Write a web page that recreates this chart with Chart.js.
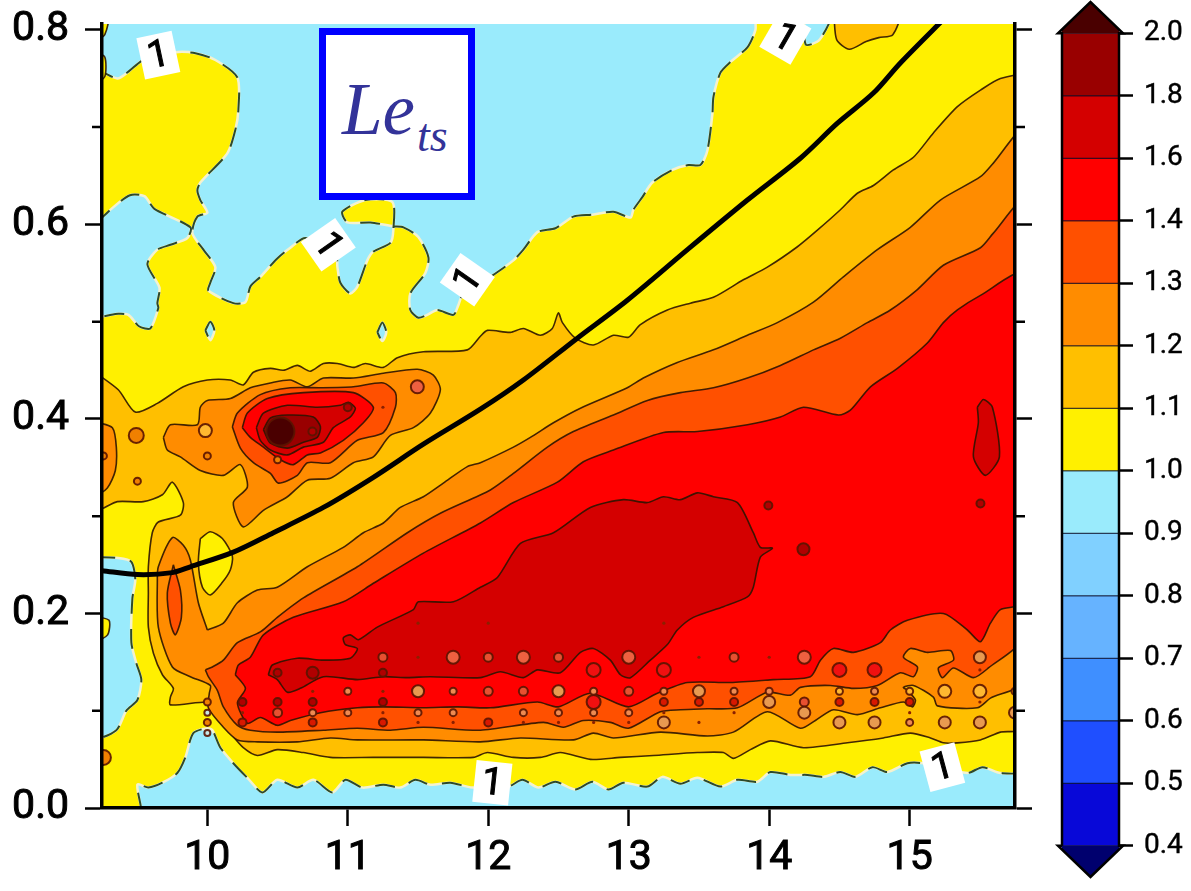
<!DOCTYPE html>
<html>
<head>
<meta charset="utf-8">
<title>Le_ts</title>
<script src="https://cdn.jsdelivr.net/npm/chart.js@4/dist/chart.umd.min.js"></script>
<style>
    html, body { margin: 0; padding: 0; background: #fff; overflow: hidden; }
    canvas { position: absolute; top: 0; display: block; }
    #mapChart { left: 0; }
    #barChart { left: 1040px; }
    #nameBox {
        position: absolute; left: 319px; top: 28px; width: 156px; height: 172px;
        box-sizing: border-box; border: 7.5px solid #0000ff; background: #fff;
    }
    #nameBox span { position: absolute; font-style: italic; font-family: "Liberation Serif", serif; color: #333399; white-space: nowrap; }
    #nameLe { left: 16px; top: 33px; font-size: 73px; line-height: 84px; }
    #nameTs { left: 91px; top: 76px; font-size: 46px; line-height: 50px; }
</style>
</head>
<body>
<canvas id="mapChart" width="1040" height="891"></canvas>
<canvas id="barChart" width="151" height="891"></canvas>
<div id="nameBox"><span id="nameLe">Le</span><span id="nameTs">ts</span></div>

<script>
// axis ticks
const xTickValues = [10, 11, 12, 13, 14, 15];
const yMajorValues = [0, 0.2, 0.4, 0.6, 0.8];
const yMinorValues = [0.1, 0.3, 0.5, 0.7];

// colour bar
const barLabels = ['0.4', '0.5', '0.6', '0.7', '0.8', '0.9', '1.0', '1.1', '1.2', '1.3', '1.4', '1.6', '1.8', '2.0'];

// contour regions, [x, y]. yellow = 1.0 level
const contour1p0 = [
    [9.2,.761],[9.359,.750],[9.438,.757],[9.544,.769],[9.772,.777],[9.915,.776],[10.057,.769],[10.214,.751],[10.221,.718],
    [10.199,.697],[10.142,.673],[9.950,.643],[9.929,.635],[9.950,.625],[10.0,.612],[9.929,.608],[9.893,.591],[9.972,.574],
    [10.057,.556],[10.021,.540],[10.007,.532],[10.185,.519],[10.271,.520],[10.306,.536],[10.377,.546],[10.498,.565],
    [10.591,.576],[10.698,.586],[10.911,.574],[10.926,.556],[10.947,.540],[11.018,.529],[11.068,.536],[11.139,.563],
    [11.182,.572],[11.303,.581],[11.324,.594],[11.317,.623],[11.125,.625],[10.961,.613],[10.997,.602],[11.161,.602],
    [11.324,.598],[11.396,.597],[11.502,.587],[11.574,.566],[11.552,.550],[11.445,.529],[11.445,.512],[11.502,.504],
    [11.566,.507],[11.638,.512],[11.752,.507],[11.787,.517],[11.816,.527],[12.015,.546],[12.179,.563],[12.250,.574],
    [12.350,.592],[12.478,.596],[12.606,.608],[12.741,.610],[12.891,.613],[13.012,.607],[13.033,.615],[13.097,.628],
    [13.168,.643],[13.311,.656],[13.425,.661],[13.510,.661],[13.560,.676],[13.596,.714],[13.603,.731],[13.653,.756],
    [13.724,.767],[13.845,.782],[13.902,.800],[13.916,.82],[15.8,.82],[15.8,.039],[15.646,.036],[15.518,.042],[15.411,.036],
    [15.098,.046],[14.984,.046],[14.842,.037],[14.735,.042],[14.614,.032],[14.507,.037],[14.386,.032],[14.272,.034],
    [14.151,.034],[14.009,.037],[13.916,.027],[13.774,.029],[13.653,.022],[13.489,.031],[13.368,.025],[13.240,.032],
    [13.133,.022],[12.962,.026],[12.855,.019],[12.741,.027],[12.620,.019],[12.478,.027],[12.357,.021],[12.243,.029],
    [12.143,.022],[11.887,.021],[11.730,.026],[11.588,.024],[11.481,.029],[11.374,.021],[11.253,.024],[11.104,.021],
    [10.983,.029],[10.890,.016],[10.755,.029],[10.641,.021],[10.498,.029],[10.392,.016],[10.285,.031],[10.185,.046],
    [10.093,.062],[10.036,.080],[10.0,.082],[9.900,.077],[9.843,.052],[9.786,.036],[9.680,.026],[9.580,.021],[9.502,.024],
    [9.523,-.01],[9.2,-.01],[9.2,.761]
];
// sky-blue pockets lying inside the yellow
const pocketLeftTop = [
    [9.2,.600],[9.325,.617],[9.449,.630],[9.552,.629],[9.623,.616],[9.879,.597],[9.858,.586],[9.737,.579],[9.644,.574],
    [9.573,.559],[9.659,.535],[9.644,.519],[9.651,.514],[9.594,.493],[9.516,.495],[9.438,.507],[9.366,.508],[9.2,.507],[9.2,.600]
];
const pocketLeftLow = [
    [9.2,.258],[9.366,.257],[9.459,.253],[9.487,.235],[9.466,.215],[9.459,.170],[9.494,.149],[9.530,.132],[9.502,.111],
    [9.423,.100],[9.352,.080],[9.2,.073],[9.2,.258]
];
const pocketDotA = [[9.986,.491],[10.021,.500],[10.05,.491],[10.021,.481],[9.986,.491]];
const pocketDotB = [[11.210,.489],[11.246,.499],[11.274,.489],[11.246,.480],[11.210,.489]];
const pocketTopRight = [[14.25,.82],[14.45,.82],[14.36,.79],[14.26,.785],[14.25,.82]];
// yellow slivers against the left axis
const sliverTopLeft = [[9.2,.82],[9.3,.82],[9.27,.795],[9.2,.79],[9.2,.82]];
const sliverMidLeft = [[9.2,.778],[9.27,.772],[9.27,.752],[9.2,.745],[9.2,.778]];
const sliverLowLeft = [[9.2,.197],[9.3,.193],[9.29,.178],[9.2,.172],[9.2,.197]];

const contour1p1 = [
    [9.2,.448],[9.366,.430],[9.487,.407],[9.644,.416],[9.829,.433],[10,.440],[10.164,.440],[10.256,.435],[10.328,.448],
    [10.449,.452],[10.541,.450],[10.641,.455],[10.733,.449],[10.826,.457],[10.926,.457],[11.040,.453],[11.125,.457],
    [11.253,.453],[11.353,.463],[11.538,.469],[11.851,.471],[11.944,.485],[11.994,.491],[12.157,.489],[12.250,.493],
    [12.371,.486],[12.456,.493],[12.499,.509],[12.528,.499],[12.620,.483],[12.748,.476],[12.891,.486],[12.998,.484],
    [13.083,.497],[13.275,.512],[13.439,.519],[13.603,.525],[13.816,.543],[13.987,.556],[14.201,.577],[14.343,.594],
    [14.507,.615],[14.628,.632],[14.742,.640],[14.884,.656],[15.027,.669],[15.169,.694],[15.340,.721],[15.504,.738],
    [15.646,.750],[15.8,.751],[15.8,.082],[15.646,.078],[15.504,.070],[15.340,.067],[15.240,.067],[15.148,.072],
    [15.005,.077],[14.813,.072],[14.557,.067],[14.244,.062],[14.009,.069],[13.866,.060],[13.745,.051],[13.674,.057],
    [13.489,.057],[13.176,.054],[12.941,.052],[12.727,.050],[12.513,.057],[12.371,.052],[12.179,.052],[11.994,.057],
    [11.894,.052],[11.538,.052],[11.182,.052],[10.876,.052],[10.684,.057],[10.498,.060],[10.356,.054],[10.256,.062],
    [10.164,.077],[10.093,.090],[10.036,.104],[10,.109],[9.737,.106],[9.737,.114],[9.758,.123],[9.680,.137],[9.616,.159],
    [9.580,.186],[9.580,.221],[9.580,.248],[9.608,.283],[9.651,.294],[9.808,.301],[9.829,.314],[9.751,.335],[9.680,.322],
    [9.544,.315],[9.359,.315],[9.2,.307],[9.2,.448]
];
const patch1p1TopRight = [
    [14.46,.82],[14.48,.790],[14.57,.780],[14.69,.788],[14.78,.792],[14.88,.795],[14.93,.82],[14.46,.82]
];
const hole1p0Arch = [
    [9.950,.277],[10.021,.284],[10.107,.277],[10.178,.259],[10.164,.245],[10.107,.232],[10.021,.219],[9.965,.227],[9.936,.252],[9.950,.277]
];

const contour1p2 = [
    [10,.183],[10.114,.190],[10.214,.211],[10.356,.224],[10.498,.227],[10.712,.248],[10.968,.268],[11.111,.283],[11.253,.293],
    [11.374,.309],[11.538,.320],[11.680,.334],[11.851,.351],[11.944,.355],[12.179,.371],[12.300,.381],[12.464,.396],
    [12.656,.411],[12.990,.432],[13.104,.442],[13.346,.458],[13.603,.471],[13.845,.486],[14.058,.499],[14.315,.520],
    [14.528,.546],[14.770,.574],[15.005,.597],[15.219,.625],[15.504,.649],[15.596,.663],[15.8,.695],[15.8,.130],
    [15.575,.113],[15.482,.103],[15.198,.105],[15.169,.114],[15.027,.126],[14.956,.124],[14.984,.121],[15.041,.111],
    [15.020,.104],[14.956,.109],[14.792,.103],[14.628,.096],[14.457,.101],[14.329,.090],[14.222,.082],[13.987,.099],
    [13.745,.078],[13.560,.074],[13.225,.078],[12.891,.072],[12.748,.077],[12.606,.070],[12.229,.072],[11.944,.068],
    [11.538,.070],[11.068,.070],[10.876,.072],[10.641,.068],[10.356,.068],[10.214,.070],[10.114,.083],[10.007,.103],
    [10.014,.118],[10.021,.126],[9.879,.135],[9.751,.145],[9.651,.186],[9.644,.234],[9.651,.248],[9.751,.278],[9.829,.270],
    [9.879,.255],[9.936,.211],[10,.183]
];
const blob1p2 = [
    [9.687,.381],[9.737,.394],[9.929,.394],[9.950,.412],[10,.419],[10.164,.421],[10.306,.432],[10.449,.437],[10.591,.440],
    [10.712,.433],[10.826,.442],[11.040,.442],[11.253,.447],[11.495,.451],[11.609,.445],[11.659,.430],[11.588,.406],
    [11.467,.391],[11.303,.383],[11.182,.361],[11.040,.355],[10.876,.339],[10.712,.337],[10.570,.320],[10.399,.306],
    [10.256,.289],[10.185,.314],[10.285,.330],[10.235,.353],[10.114,.342],[9.950,.347],[9.808,.361],[9.715,.368],[9.687,.381]
];
const edge1p2 = [[9.2,.397],[9.324,.391],[9.352,.371],[9.345,.347],[9.288,.329],[9.2,.322],[9.2,.397]];

const contour1p3 = [
    [9.986,.142],[10.036,.145],[10.114,.152],[10.214,.170],[10.377,.181],[10.498,.196],[10.684,.216],[11.068,.248],[11.424,.283],
    [11.659,.303],[12.015,.327],[12.179,.344],[12.421,.371],[12.606,.387],[12.891,.404],[13.133,.419],[13.368,.427],
    [13.603,.432],[13.845,.442],[14.080,.455],[14.315,.471],[14.507,.483],[14.699,.499],[14.863,.512],[15.055,.533],
    [15.240,.558],[15.504,.576],[15.596,.591],[15.8,.622],[15.8,.176],[15.561,.144],[15.454,.134],[15.312,.144],
    [15.233,.134],[15.205,.144],[15.312,.152],[15.290,.162],[15.126,.160],[15.005,.164],[14.956,.155],[15.055,.145],
    [15.027,.135],[14.934,.139],[14.770,.126],[14.600,.123],[14.436,.126],[14.222,.124],[14.151,.116],[13.987,.119],
    [13.774,.103],[13.560,.102],[13.368,.101],[13.225,.099],[12.998,.082],[12.869,.088],[12.677,.090],[12.535,.083],
    [12.392,.088],[11.944,.080],[11.538,.083],[11.303,.080],[11.068,.082],[10.826,.080],[10.498,.078],[10.306,.080],
    [10.214,.085],[10.114,.104],[10.071,.121],[10.007,.135],[9.986,.142]
];
const lobe1p3 = [[9.758,.250],[9.715,.221],[9.737,.190],[9.772,.178],[9.815,.196],[9.808,.224],[9.758,.250]];
const blob1p3 = [
    [10.178,.392],[10.214,.406],[10.377,.425],[10.591,.432],[10.805,.432],[11.040,.433],[11.253,.437],[11.339,.427],[11.339,.412],
    [11.253,.386],[11.068,.378],[10.876,.355],[10.712,.355],[10.641,.342],[10.506,.334],[10.449,.344],[10.328,.355],[10.235,.370],[10.178,.392]
];

const contour1p4 = [
    [10.199,.137],[10.221,.147],[10.306,.155],[10.399,.178],[10.612,.196],[10.968,.212],[11.182,.231],[11.538,.262],[11.944,.293],
    [12.179,.314],[12.492,.335],[12.677,.356],[12.891,.368],[13.247,.386],[13.489,.387],[13.845,.394],[14.080,.402],
    [14.244,.412],[14.493,.404],[14.578,.409],[14.721,.433],[14.913,.452],[15.126,.478],[15.240,.499],[15.340,.512],
    [15.504,.527],[15.8,.548],[15.8,.211],[15.646,.204],[15.575,.190],[15.504,.171],[15.411,.183],[15.240,.200],
    [14.984,.193],[14.863,.183],[14.792,.170],[14.600,.160],[14.457,.164],[14.365,.152],[14.293,.135],[14.030,.132],
    [13.724,.129],[13.418,.129],[13.204,.118],[12.998,.104],[12.727,.118],[12.499,.104],[12.350,.109],[12.015,.103],
    [11.780,.104],[11.538,.103],[11.253,.104],[11.068,.103],[10.805,.098],[10.591,.090],[10.498,.085],[10.377,.093],
    [10.285,.087],[10.214,.108],[10.271,.123],[10.199,.137]
];
const blob1p4 = [
    [10.249,.391],[10.285,.406],[10.427,.421],[10.684,.427],[11.040,.427],[11.182,.412],[11.111,.396],[10.968,.378],[10.805,.365],
    [10.712,.363],[10.612,.353],[10.520,.358],[10.399,.371],[10.306,.381],[10.249,.391]
];

const contour1p6 = [
    [10.434,.137],[10.463,.147],[10.641,.154],[10.826,.152],[11.018,.154],[11.068,.164],[10.983,.168],[10.968,.175],[11.018,.178],
    [11.075,.173],[11.210,.186],[11.467,.204],[11.502,.212],[11.752,.212],[11.944,.227],[12.065,.237],[12.229,.272],
    [12.464,.283],[12.727,.309],[12.962,.317],[13.133,.314],[13.247,.320],[13.368,.317],[13.489,.324],[13.603,.320],
    [13.774,.314],[13.887,.283],[13.937,.268],[14.023,.267],[13.937,.258],[13.887,.227],[13.845,.217],[13.674,.207],
    [13.460,.196],[13.346,.183],[13.275,.168],[13.154,.152],[13.012,.134],[12.941,.137],[12.869,.152],[12.748,.164],
    [12.656,.160],[12.513,.139],[12.350,.142],[12.250,.134],[12.086,.140],[11.944,.134],[11.588,.135],[11.424,.134],
    [11.253,.135],[11.068,.132],[10.826,.135],[10.662,.123],[10.570,.119],[10.498,.132],[10.434,.137]
];
const blob1p6 = [
    [10.349,.391],[10.399,.406],[10.570,.414],[10.783,.412],[10.947,.414],[11.004,.417],[11.054,.411],[11.018,.402],[10.897,.391],
    [10.826,.376],[10.684,.371],[10.570,.363],[10.449,.368],[10.377,.378],[10.349,.391]
];
const edge1p6 = [[15.482,.412],[15.525,.420],[15.589,.412],[15.639,.361],[15.539,.342],[15.454,.361],[15.489,.396],[15.482,.412]];
const blob1p8 = [
    [10.399,.389],[10.449,.401],[10.570,.404],[10.755,.402],[10.805,.392],[10.783,.381],[10.684,.376],[10.570,.370],[10.449,.375],[10.399,.389]
];

// small closed rings around single grid points
const spotsTiny = [
    [10.25,.098],[10.75,.120],[11.25,.120],[11.25,.098],[11.5,.155],[11.5,.088],[11.75,.088],[12.25,.088],[12.5,.088],[12.75,.088],
    [13,.088],[13.25,.098],[13.5,.155],[13.5,.088],[13.75,.098],[14,.155],[15,.098],[15.5,.142],[15.5,.109],
    [11.5,.190],[12,.190],[13.25,.190],[11.25,.412]
];
const spotsDarkSmall = [
    [10.25,.109],[10.5,.139],[10.5,.109],[10.75,.109],[11.25,.139],[11.25,.109],[10.748,.387],[11.0,.412],[13.994,.311],[15.504,.313]
];
const spotsDarkLarge = [[10.75,.139],[14.244,.266]];
const spotsRedSmall = [
    [10.25,.088],[10.75,.088],[11.25,.088],[12,.088],[13.25,.109],[13.5,.109],[13.75,.109],[14.5,.109],[14.75,.109],[15,.109]
];
const spotsRedLarge = [[12.75,.142],[12.75,.109],[13.25,.142],[14.5,.142],[14.75,.142]];
const spotsOrangeSmall = [
    [10.5,.098],[11.25,.155],[12,.155],[12,.120],[12.25,.120],[12.5,.155],[13,.120],[13.75,.155],[14.25,.109]
];
const spotsOrangeLarge = [[11.75,.155],[12.25,.155],[13,.155],[14.25,.155],[11.495,.433]];
const spotsTanSmall = [
    [10.75,.098],[11,.120],[11,.098],[11.5,.098],[11.75,.120],[11.75,.098],[12.25,.098],[12.5,.098],[12.75,.120],[12.75,.098],
    [13,.098],[13.75,.120],[14,.120],[15,.088],[14.75,.120],[13.25,.120]
];
const spotsTanLarge = [
    [11.5,.120],[12.5,.120],[13.25,.088],[13.5,.120],[14,.109],[14.25,.098],[14.5,.088],[14.75,.088],[15.25,.088],[15.5,.088],[15.5,.155],[15.75,.098]
];
const spotsYellowSmall = [[14.5,.120],[15,.120]];
const spotsYellowLarge = [[15.25,.120],[15.5,.120],[9.986,.388]];
const spotsAmberSmall = [[10,.362],[9.502,.336],[9.26,.362],[10,.109],[10,.088],[10.5,.358],[15.75,.120]];
const spotsAmberLarge = [[9.494,.383],[9.26,.052]];
const spotsSky = [[10,.077],[10,.098]];
const spotCore = [[10.52,.387]];

// heavy threshold curve
const thresholdCurve = [
    [9.25,.244],[9.502,.240],[9.751,.242],[9.879,.248],[10.185,.263],[10.470,.283],[10.826,.309],[11.182,.340],[11.538,.374],
    [11.944,.410],[12.250,.440],[12.634,.483],[12.990,.522],[13.418,.574],[13.845,.625],[14.222,.668],[14.486,.704],
    [14.742,.735],[14.934,.766],[15.27,.815]
];

// inline "1" labels on the 1.0 contour
const labelX = [9.651, 10.861, 11.851, 14.115, 12.029, 15.233];
const labelY = [.774, .579, .543, .792, .026, .042];
const labelAngle = [-12, 55, -55, 30, 6, -15];

const levelColors = {
    sky: '#9aebfc', l10: '#fff000', l11: '#ffbf00', l12: '#ff8c00', l13: '#ff5000',
    l14: '#ff0000', l16: '#d40000', l18: '#990000', core: '#4a0000'
};
const barColors = [
    '#0808d8', '#1f4fff', '#3f8fff', '#66b3ff', '#80d0ff', levelColors.sky, levelColors.l10, levelColors.l11,
    levelColors.l12, levelColors.l13, levelColors.l14, levelColors.l16, levelColors.l18
];
const lineColor = 'rgba(45,20,0,0.9)';
const tickFamily = 'Roboto';

const toPoints = arr => arr.map(p => ({ x: p[0], y: p[1] }));

function region(arr, color) {
    return {
        data: toPoints(arr), showLine: true, fill: 'shape', backgroundColor: color,
        borderColor: lineColor, borderWidth: 1.6, tension: 0.25, pointRadius: 0
    };
}

function dashedRegion(arr, color) {
    // pale solid edge first, dashes on top
    return [
        Object.assign(region(arr, color), { borderColor: '#f4f2d0', borderWidth: 2.5 }),
        { data: toPoints(arr), showLine: true, fill: false, borderColor: '#2c4a2c', borderWidth: 2,
          borderDash: [20, 15], tension: 0.25, pointRadius: 0 }
    ];
}

function spots(arr, color, r) {
    return {
        data: toPoints(arr), showLine: false, pointRadius: r, pointBackgroundColor: color,
        pointBorderColor: 'rgba(90,20,0,0.9)', pointBorderWidth: r < 2 ? 0 : 2
    };
}

// the axis labels would otherwise reserve room above and below the plot
function noLabelPadding(s) {
    s.paddingTop = 0;
    s.paddingBottom = 0;
    s.paddingLeft = 0;
    s.paddingRight = 0;
}

const mapDatasets = [
    { data: toPoints([[9.2,-.01],[15.8,-.01],[15.8,.82],[9.2,.82]]), showLine: true, fill: 'shape',
      backgroundColor: levelColors.sky, borderWidth: 0, pointRadius: 0 },
    ...dashedRegion(contour1p0, levelColors.l10),
    ...dashedRegion(pocketLeftTop, levelColors.sky),
    ...dashedRegion(pocketLeftLow, levelColors.sky),
    ...dashedRegion(pocketDotA, levelColors.sky),
    ...dashedRegion(pocketDotB, levelColors.sky),
    ...dashedRegion(pocketTopRight, levelColors.sky),
    region(sliverTopLeft, levelColors.l10),
    region(sliverMidLeft, levelColors.l10),
    region(sliverLowLeft, levelColors.l10),
    region(contour1p1, levelColors.l11),
    region(patch1p1TopRight, levelColors.l11),
    region(hole1p0Arch, levelColors.l10),
    region(contour1p2, levelColors.l12),
    region(blob1p2, levelColors.l12),
    region(edge1p2, levelColors.l12),
    region(contour1p3, levelColors.l13),
    region(lobe1p3, levelColors.l13),
    region(blob1p3, levelColors.l13),
    region(contour1p4, levelColors.l14),
    region(blob1p4, levelColors.l14),
    region(contour1p6, levelColors.l16),
    region(blob1p6, levelColors.l16),
    region(edge1p6, levelColors.l16),
    region(blob1p8, levelColors.l18),
    spots(spotCore, levelColors.core, 14),
    spots(spotsTiny, '#8a2000', 1.6),
    spots(spotsDarkSmall, '#b00000', 4),
    spots(spotsDarkLarge, '#b00000', 6),
    spots(spotsRedSmall, '#d81800', 4),
    spots(spotsRedLarge, '#f01010', 7),
    spots(spotsOrangeSmall, '#e85030', 4.5),
    spots(spotsOrangeLarge, '#ee6040', 6.5),
    spots(spotsTanSmall, '#ef8a50', 3.5),
    spots(spotsTanLarge, '#e89a50', 6),
    spots(spotsYellowSmall, '#ffb830', 3.5),
    spots(spotsYellowLarge, '#ffb830', 6.5),
    spots(spotsAmberSmall, '#f08000', 3.5),
    spots(spotsAmberLarge, '#f08000', 7.5),
    spots(spotsSky, '#c8e8e8', 3),
    { data: toPoints(thresholdCurve), showLine: true, fill: false, borderColor: '#000', borderWidth: 5,
      tension: 0.3, pointRadius: 0 }
].reverse(); // first dataset is painted last

// short ticks and the white-backed contour labels
const mapExtras = {
    id: 'mapExtras',
    afterDraw(chart) {
        const ctx = chart.ctx;
        const sx = chart.scales.x, sy = chart.scales.y;
        const area = chart.chartArea;

        ctx.save();
        labelX.forEach((v, i) => {
            ctx.save();
            ctx.translate(sx.getPixelForValue(v), sy.getPixelForValue(labelY[i]));
            ctx.rotate(labelAngle[i] * Math.PI / 180);
            ctx.fillStyle = '#fff';
            ctx.fillRect(-18, -21, 36, 42);
            ctx.fillStyle = '#000';
            ctx.strokeStyle = '#000';
            ctx.lineWidth = 1;
            ctx.font = '38px ' + tickFamily;
            ctx.textAlign = 'center';
            ctx.textBaseline = 'middle';
            ctx.fillText('1', 0, 2);
            ctx.strokeText('1', 0, 2);
            ctx.restore();
        });

        ctx.strokeStyle = '#000';
        ctx.lineWidth = 2.5;
        ctx.beginPath();
        yMinorValues.forEach(v => {
            const py = sy.getPixelForValue(v);
            ctx.moveTo(area.left - 10, py);
            ctx.lineTo(area.left, py);
            ctx.moveTo(area.right, py);
            ctx.lineTo(area.right + 10, py);
        });
        ctx.stroke();
        ctx.restore();
    }
};

const axisFont = { family: tickFamily, size: 41 };
const gridOpts = len => ({ drawOnChartArea: false, drawTicks: true, tickLength: len, tickWidth: 2.5, tickColor: '#000' });
const borderOpts = { display: true, color: '#000', width: 3.5, z: 1 };

new Chart(document.getElementById('mapChart'), {
    type: 'scatter',
    data: { datasets: mapDatasets },
    options: {
        responsive: false,
        animation: false,
        events: [],
        layout: { autoPadding: false, padding: { top: 24, left: 0, right: 0, bottom: 0 } },
        plugins: { legend: { display: false }, tooltip: { enabled: false } },
        scales: {
            x: {
                type: 'linear', min: 9.25, max: 15.75,
                afterBuildTicks: s => { s.ticks = xTickValues.map(v => ({ value: v })); },
                afterFit: s => { s.height = 83; noLabelPadding(s); },
                grid: gridOpts(18), border: borderOpts,
                ticks: { color: '#000', font: axisFont, padding: 8, maxRotation: 0, autoSkip: false,
                         textStrokeColor: '#000', textStrokeWidth: 1 }
            },
            y: {
                type: 'linear', min: 0, max: 0.806,
                afterBuildTicks: s => { s.ticks = yMajorValues.map(v => ({ value: v })); },
                afterFit: s => { s.width = 102; noLabelPadding(s); },
                grid: gridOpts(17), border: borderOpts,
                ticks: { color: '#000', font: axisFont, padding: 16, autoSkip: false,
                         callback: v => v.toFixed(1), textStrokeColor: '#000', textStrokeWidth: 1 }
            },
            yRight: {
                type: 'linear', position: 'right', min: 0, max: 0.806,
                afterBuildTicks: s => { s.ticks = yMajorValues.map(v => ({ value: v })); },
                afterFit: s => { s.width = 25; noLabelPadding(s); },
                grid: gridOpts(17), border: borderOpts,
                ticks: { display: false }
            }
        }
    },
    plugins: [mapExtras]
});

// colour bar, bands sit on an index axis with one step per label
const barDatasets = barColors.map((c, i) => ({
    data: toPoints([[0, i], [1, i], [1, i + 1], [0, i + 1], [0, i]]),
    showLine: true, fill: 'shape', backgroundColor: c, borderColor: 'rgba(0,0,30,0.75)', borderWidth: 1,
    pointRadius: 0, clip: false
}));
const topIndex = barColors.length;
barDatasets.push(
    { data: toPoints([[-.07, 0], [.5, -.5], [1.07, 0], [-.07, 0]]), showLine: true, fill: 'shape',
      backgroundColor: '#00006e', borderWidth: 0, pointRadius: 0, clip: false },
    { data: toPoints([[-.07, topIndex], [.5, topIndex + .5], [1.07, topIndex], [-.07, topIndex]]), showLine: true, fill: 'shape',
      backgroundColor: levelColors.core, borderWidth: 0, pointRadius: 0, clip: false },
    { data: toPoints([[0, 0], [-.07, 0], [.5, -.5], [1.07, 0], [1, 0], [1, topIndex], [1.07, topIndex], [.5, topIndex + .5],
                      [-.07, topIndex], [0, topIndex], [0, 0]]),
      showLine: true, fill: false, borderColor: '#000', borderWidth: 2.5, pointRadius: 0, clip: false }
);

new Chart(document.getElementById('barChart'), {
    type: 'scatter',
    data: { datasets: barDatasets.reverse() },
    options: {
        responsive: false,
        animation: false,
        events: [],
        layout: { autoPadding: false, padding: { top: 2, left: 22, right: 0, bottom: 14 } },
        plugins: { legend: { display: false }, tooltip: { enabled: false } },
        scales: {
            x: { type: 'linear', min: 0, max: 1, display: false },
            y: {
                type: 'linear', position: 'right', min: -0.5, max: topIndex + 0.5,
                afterBuildTicks: s => { s.ticks = barLabels.map((t, i) => ({ value: i })); },
                afterFit: s => { s.width = 151 - 22 - 57; noLabelPadding(s); },
                grid: { drawOnChartArea: false, drawTicks: true, tickLength: 14, tickWidth: 2.5, tickColor: '#000' },
                border: { display: false },
                ticks: { color: '#000', font: { family: tickFamily, size: 28 }, padding: 11, autoSkip: false,
                         callback: v => barLabels[v], textStrokeColor: '#000', textStrokeWidth: 0.4 }
            }
        }
    }
});
</script>
</body>
</html>
